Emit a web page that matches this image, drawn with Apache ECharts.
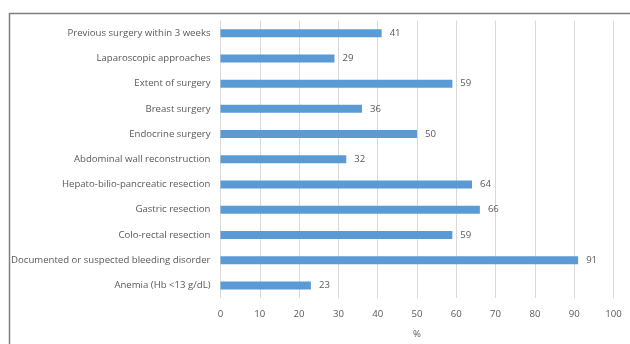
<!DOCTYPE html>
<html><head><meta charset="utf-8">
<script src="https://cdn.jsdelivr.net/npm/echarts@6/dist/echarts.min.js"></script>
<style>html,body{margin:0;padding:0;background:#fff}#c{width:630px;height:344px}</style>
</head><body><div id="c"></div>
<script>
const categories = ["Previous surgery within 3 weeks","Laparoscopic approaches","Extent of surgery","Breast surgery","Endocrine surgery","Abdominal wall reconstruction","Hepato-bilio-pancreatic resection","Gastric resection","Colo-rectal resection","Documented or suspected bleeding disorder","Anemia (Hb <13 g/dL)"];
const values = [41,29,59,36,50,32,64,66,59,91,23];
const xTicks = [0,10,20,30,40,50,60,70,80,90,100];
const xAxisName = "%";

const chart = echarts.init(document.getElementById('c'), null, {renderer:'canvas'});
const font = "'Open Sans', sans-serif";
chart.setOption({
  animation:false,
  graphic:[{type:'rect',shape:{x:9.5,y:13.5,width:700,height:400},style:{fill:'none',stroke:'#7f7f7f',lineWidth:1.5},silent:true}],
  grid:{left:220.5,right:16.5,top:20.6,bottom:44.3,containLabel:false},
  xAxis:{type:'value',min:xTicks[0],max:xTicks[xTicks.length-1],interval:10,
    name:xAxisName,nameLocation:'middle',nameGap:31,nameTextStyle:{color:'#595959',fontSize:9.6,fontFamily:font},
    axisLine:{show:false},axisTick:{show:false},
    axisLabel:{color:'#595959',fontSize:9.6,fontFamily:font,margin:11},
    splitLine:{lineStyle:{color:'#d9d9d9',width:1}}},
  yAxis:{type:'category',data:categories,inverse:true,
    axisLine:{show:false},axisTick:{show:false},
    axisLabel:{color:'#595959',fontSize:9.6,fontFamily:font,margin:10},
    splitLine:{show:false}},
  series:[{type:'bar',data:values,barWidth:8,itemStyle:{color:'#5b9bd5'},
    label:{show:true,position:'right',distance:8,color:'#595959',fontSize:9.6,fontFamily:font}}]
});
</script></body></html>
